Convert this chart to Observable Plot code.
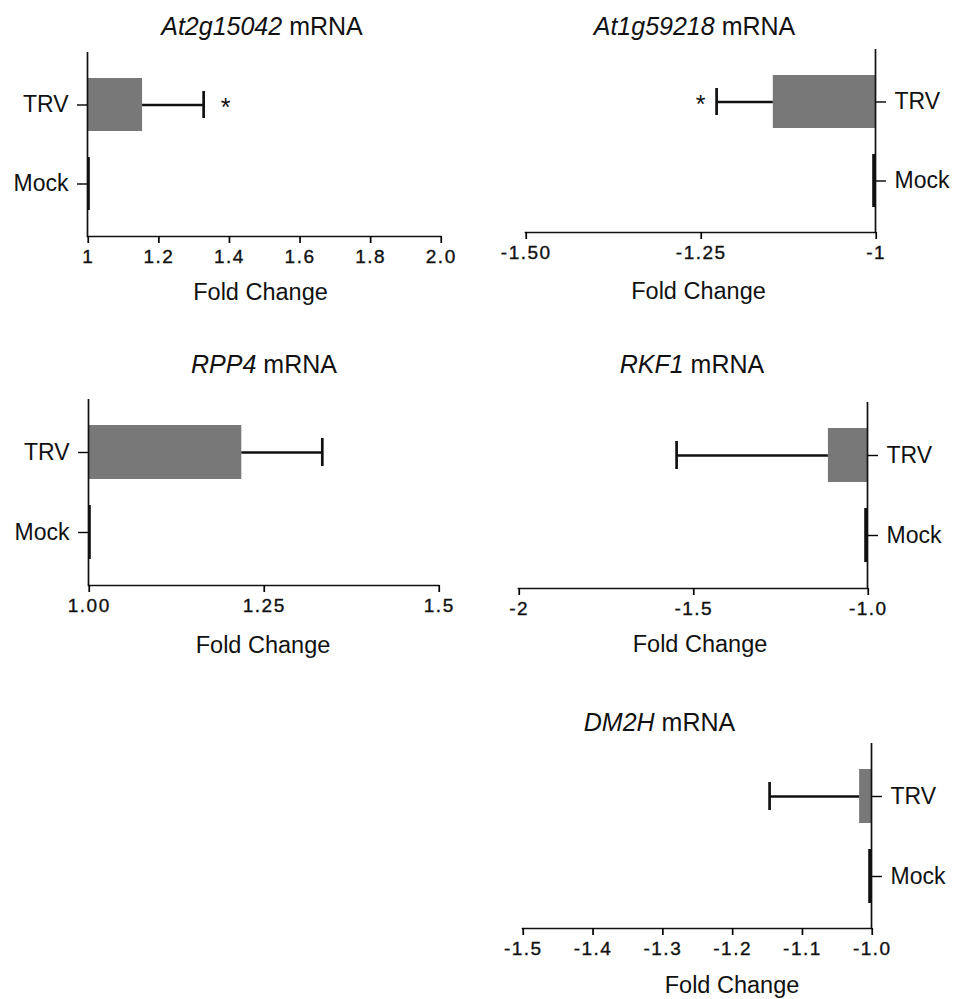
<!DOCTYPE html>
<html>
<head>
<meta charset="utf-8">
<script src="https://cdn.jsdelivr.net/npm/d3@7"></script>
<script src="https://cdn.jsdelivr.net/npm/@observablehq/plot@0.6"></script>
<style>
  body { margin: 0; background: #fff; }
  #wrap { position: relative; width: 954px; height: 999px; overflow: hidden; background: #fff;
          font-family: "Liberation Sans", Arial, Helvetica, sans-serif; }
  .panel { position: absolute; }
  .panel g[aria-label="x-axis tick label"] { letter-spacing: 1.5px; stroke: #111; stroke-width: 0.35px; }
</style>
</head>
<body>
<div id="wrap"></div>
<script>
// ---------- data ----------
const genes = ["At2g15042", "At1g59218", "RPP4", "RKF1", "DM2H"];
const categories = ["TRV", "Mock"];
const baseValues = [1, -1, 1, -1, -1];
const trvValues = [1.156, -1.146, 1.219, -1.112, -1.017];
const trvErrorEnds = [1.329, -1.227, 1.334, -1.547, -1.146];
const mockValues = [1.008, -1.004, 1.004, -1.008, -1.004];
const significant = [true, true, false, false, false];
const xDomains = [[1, 2], [-1.5, -1], [1, 1.5], [-2, -1], [-1.5, -1]];
const tickValues = [
  [1, 1.2, 1.4, 1.6, 1.8, 2.0],
  [-1.5, -1.25, -1],
  [1, 1.25, 1.5],
  [-2, -1.5, -1],
  [-1.5, -1.4, -1.3, -1.2, -1.1, -1.0]
];
const tickLabels = [
  ["1", "1.2", "1.4", "1.6", "1.8", "2.0"],
  ["-1.50", "-1.25", "-1"],
  ["1.00", "1.25", "1.5"],
  ["-2", "-1.5", "-1.0"],
  ["-1.5", "-1.4", "-1.3", "-1.2", "-1.1", "-1.0"]
];
const titleSuffix = " mRNA";
const xLabel = "Fold Change";

// ---------- layout ----------
const layout = [
  {left: 0,   top: 0,   width: 477, height: 320, ml: 87, mr: 37, mt: 52, mb: 84, side: "left",  tx: 262,   ty: 35, lx: 260.5, ly: 300, starDx: 22},
  {left: 477, top: 0,   width: 477, height: 320, ml: 48, mr: 79, mt: 49, mb: 88, side: "right", tx: 217.5, ty: 35, lx: 221.5, ly: 299, starDx: -16},
  {left: 0,   top: 330, width: 477, height: 340, ml: 88, mr: 39, mt: 69, mb: 85, side: "left",  tx: 264,   ty: 43, lx: 263,   ly: 323, starDx: 22},
  {left: 477, top: 330, width: 477, height: 340, ml: 41, mr: 87, mt: 72, mb: 82, side: "right", tx: 215,   ty: 43, lx: 223,   ly: 322, starDx: -16},
  {left: 477, top: 670, width: 477, height: 329, ml: 45, mr: 83, mt: 73, mb: 71, side: "right", tx: 182.5, ty: 61, lx: 255,   ly: 323, starDx: -16}
];

const FONT = "'Liberation Sans', Arial, Helvetica, sans-serif";
const wrap = document.getElementById("wrap");

genes.forEach((gene, i) => {
  const L = layout[i];
  const trvRow = {cat: categories[0], base: baseValues[i], v: trvValues[i], err: trvErrorEnds[i]};
  const mockRow = {cat: categories[1], base: baseValues[i], v: mockValues[i]};
  const labelMap = new Map(tickValues[i].map((t, j) => [t, tickLabels[i][j]]));

  const svg = Plot.plot({
    width: L.width,
    height: L.height,
    marginLeft: L.ml,
    marginRight: L.mr,
    marginTop: L.mt,
    marginBottom: L.mb,
    style: {fontFamily: FONT, fontSize: "19px", background: "white", overflow: "visible"},
    x: {domain: xDomains[i]},
    y: {type: "band", domain: categories, paddingInner: 0.33, paddingOuter: 0.32},
    marks: [
      Plot.barX([trvRow], {x1: "base", x2: "v", y: "cat", fill: "#787878"}),
      Plot.barX([mockRow], {x1: "base", x2: "v", y: "cat", fill: "#111"}),
      Plot.ruleY([trvRow], {x1: "v", x2: "err", y: "cat", stroke: "#111", strokeWidth: 2.3}),
      Plot.tickX([trvRow], {x: "err", y: "cat", stroke: "#111", strokeWidth: 2.7, insetTop: 13, insetBottom: 13}),
      Plot.text(significant[i] ? [trvRow] : [], {x: "err", y: "cat", text: () => "*", dx: L.starDx, dy: 3, fontSize: 25, fill: "#111"}),
      Plot.ruleX([baseValues[i]], {stroke: "#111", strokeWidth: 1.7}),
      Plot.frame({anchor: "bottom", stroke: "#111", strokeWidth: 1.7}),
      Plot.axisX({
        ticks: tickValues[i],
        tickFormat: (d) => labelMap.get(d),
        tickSize: 7,
        tickPadding: 6,
        strokeWidth: 1.7,
        fontSize: 19,
        dx: 0.75,
        label: null,
        fill: "#111"
      }),
      Plot.axisY({
        anchor: L.side,
        tickSize: 10,
        tickPadding: 9,
        strokeWidth: 1.4,
        fontSize: 23,
        label: null,
        fill: "#111"
      })
    ]
  });

  const s = d3.select(svg);
  const title = s.append("text")
    .attr("x", L.tx).attr("y", L.ty)
    .attr("text-anchor", "middle")
    .attr("fill", "#111")
    .style("font-family", FONT)
    .style("font-size", "25px");
  title.append("tspan").style("font-style", "italic").text(gene);
  title.append("tspan").text(titleSuffix);

  s.append("text")
    .attr("x", L.lx).attr("y", L.ly)
    .attr("text-anchor", "middle")
    .attr("fill", "#111")
    .style("font-family", FONT)
    .style("font-size", "23.5px")
    .text(xLabel);

  const div = document.createElement("div");
  div.className = "panel";
  div.style.left = L.left + "px";
  div.style.top = L.top + "px";
  div.appendChild(svg);
  wrap.appendChild(div);
});
</script>
</body>
</html>
